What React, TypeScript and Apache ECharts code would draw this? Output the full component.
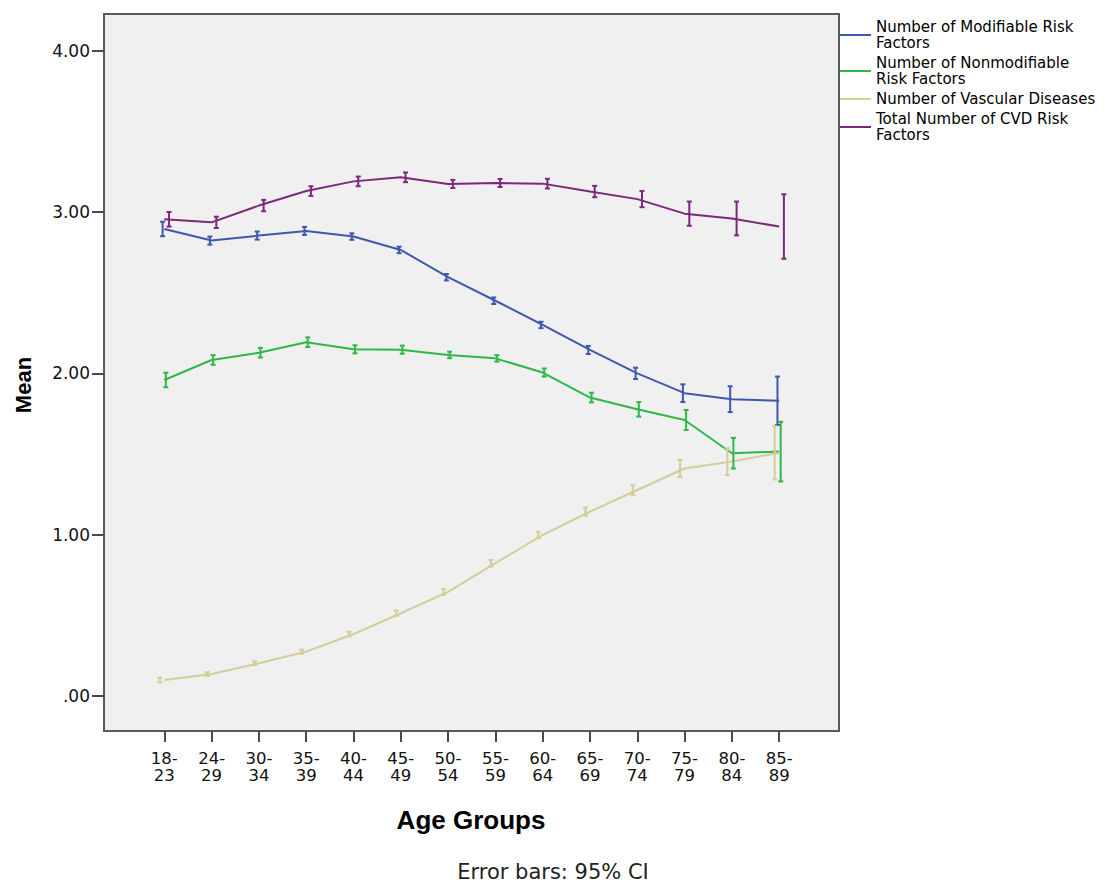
import React, { useEffect, useRef } from 'react';
import * as echarts from 'echarts';

const ageGroups = ['18-\n23', '24-\n29', '30-\n34', '35-\n39', '40-\n44', '45-\n49', '50-\n54', '55-\n59', '60-\n64', '65-\n69', '70-\n74', '75-\n79', '80-\n84', '85-\n89'];
const yTicks = [0, 1, 2, 3, 4];

const seriesNames = [
  'Number of Modifiable Risk\nFactors',
  'Number of Nonmodifiable\nRisk Factors',
  'Number of Vascular Diseases',
  'Total Number of CVD Risk\nFactors',
];
const seriesColors = ['#3E58AC', '#2EB848', '#D3CE97', '#7C287D'];

const modifiableMean = [2.895, 2.823, 2.854, 2.883, 2.848, 2.765, 2.596, 2.45, 2.3, 2.145, 2.0, 1.877, 1.84, 1.83];
const modifiableCI = [0.045, 0.025, 0.025, 0.025, 0.02, 0.02, 0.02, 0.02, 0.02, 0.025, 0.035, 0.055, 0.08, 0.15];
const nonmodifiableMean = [1.959, 2.083, 2.128, 2.193, 2.149, 2.147, 2.114, 2.093, 2.005, 1.85, 1.777, 1.711, 1.505, 1.515];
const nonmodifiableCI = [0.045, 0.03, 0.03, 0.03, 0.025, 0.025, 0.02, 0.02, 0.025, 0.03, 0.045, 0.062, 0.095, 0.185];
const vascularMean = [0.099, 0.136, 0.203, 0.275, 0.384, 0.513, 0.645, 0.823, 0.998, 1.143, 1.277, 1.41, 1.453, 1.508];
const vascularCI = [0.015, 0.012, 0.012, 0.012, 0.014, 0.016, 0.018, 0.02, 0.02, 0.025, 0.03, 0.052, 0.083, 0.165];
const totalMean = [2.955, 2.936, 3.04, 3.13, 3.19, 3.215, 3.174, 3.18, 3.176, 3.127, 3.08, 2.99, 2.96, 2.91];
const totalCI = [0.045, 0.035, 0.035, 0.03, 0.03, 0.03, 0.025, 0.025, 0.03, 0.035, 0.05, 0.075, 0.105, 0.2];

const means = [modifiableMean, nonmodifiableMean, vascularMean, totalMean];
const cis = [modifiableCI, nonmodifiableCI, vascularCI, totalCI];
const dodge = [-0.036, 0.032, -0.095, 0.1];

export default function App() {
  const ref = useRef<HTMLDivElement>(null);
  useEffect(() => {
    if (!ref.current) return;
    const chart = echarts.init(ref.current, null, { renderer: 'svg' });
    const idx = ageGroups.map((_, i) => i);
    const series: any[] = [];
    means.forEach((m, s) => {
      series.push({
        name: seriesNames[s],
        type: 'line',
        data: m.map((v, i) => [i, v]),
        symbol: 'none',
        lineStyle: { width: 2, color: seriesColors[s] },
        itemStyle: { color: seriesColors[s] },
        z: 2,
      });
    });
    means.forEach((m, s) => {
      series.push({
        name: seriesNames[s],
        type: 'custom',
        data: m.map((v, i) => [i + dodge[s], v - cis[s][i], v + cis[s][i]]),
        encode: { x: 0, y: [1, 2] },
        itemStyle: { color: seriesColors[s] },
        z: 3,
        renderItem: (params: any, api: any) => {
          const x = api.value(0);
          const top = api.coord([x, api.value(2)]);
          const bot = api.coord([x, api.value(1)]);
          const c = 2.5;
          const style = { stroke: seriesColors[s], lineWidth: 2 };
          return {
            type: 'group',
            children: [
              { type: 'line', shape: { x1: top[0], y1: top[1], x2: bot[0], y2: bot[1] }, style },
              { type: 'line', shape: { x1: top[0] - c, y1: top[1], x2: top[0] + c, y2: top[1] }, style },
              { type: 'line', shape: { x1: bot[0] - c, y1: bot[1], x2: bot[0] + c, y2: bot[1] }, style },
            ],
          };
        },
      });
    });

    chart.setOption({
      animation: false,
      backgroundColor: '#ffffff',
      grid: {
        left: 104,
        top: 14,
        width: 735,
        height: 717,
        show: true,
        backgroundColor: '#F0F0F0',
        borderColor: '#5a5a5a',
        borderWidth: 2,
        containLabel: false,
      },
      legend: {
        orient: 'vertical',
        left: 840,
        top: 19,
        padding: 0,
        itemWidth: 31,
        itemHeight: 2,
        itemGap: 4,
        icon: 'rect',
        data: seriesNames,
        selectedMode: false,
        textStyle: { fontFamily: 'DejaVu Sans', fontSize: 15, lineHeight: 16, color: '#000' },
      },
      xAxis: {
        type: 'value',
        min: -1.275,
        max: 14.265,
        axisLine: { show: false, onZero: false },
        splitLine: { show: false },
        axisTick: {
          show: true,
          length: 11,
          customValues: idx,
          lineStyle: { color: '#4a4a4a', width: 2 },
        },
        axisLabel: {
          customValues: idx,
          formatter: (v: number) => ageGroups[Math.round(v)] ?? '',
          margin: 19,
          fontFamily: 'DejaVu Sans',
          fontSize: 16.5,
          lineHeight: 17,
          color: '#111',
        },
      },
      yAxis: {
        type: 'value',
        min: -0.217,
        max: 4.2275,
        axisLine: { show: false, onZero: false },
        splitLine: { show: false },
        axisTick: {
          show: true,
          length: 12,
          customValues: yTicks,
          lineStyle: { color: '#4a4a4a', width: 2 },
        },
        axisLabel: {
          customValues: yTicks,
          formatter: (v: number) => (Math.abs(v) < 1e-9 ? '.00' : v.toFixed(2)),
          margin: 14,
          fontFamily: 'DejaVu Sans',
          fontSize: 17,
          color: '#111',
        },
      },
      graphic: [
        {
          type: 'text',
          x: 23,
          y: 385,
          rotation: Math.PI / 2,
          style: { text: 'Mean', fontFamily: 'Liberation Sans', fontWeight: 'bold', fontSize: 22, fill: '#000', align: 'center', verticalAlign: 'middle' },
        },
        {
          type: 'text',
          x: 471,
          y: 820,
          style: { text: 'Age Groups', fontFamily: 'Liberation Sans', fontWeight: 'bold', fontSize: 26, fill: '#000', align: 'center', verticalAlign: 'middle' },
        },
        {
          type: 'text',
          x: 553,
          y: 872,
          style: { text: 'Error bars: 95% CI', fontFamily: 'DejaVu Sans', fontSize: 21, fill: '#222', align: 'center', verticalAlign: 'middle' },
        },
      ],
      series,
    });
    return () => chart.dispose();
  }, []);
  return <div ref={ref} style={{ position: 'absolute', left: 0, top: 0, width: 1105, height: 883 }} />;
}
